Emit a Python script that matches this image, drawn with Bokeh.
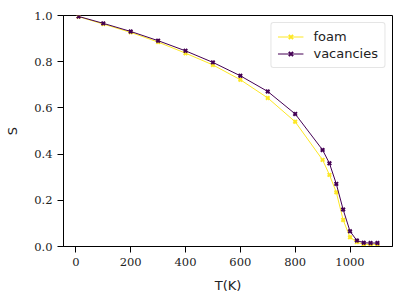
from bokeh.plotting import figure
from bokeh.models import Range1d, FixedTicker, PrintfTickFormatter, Legend, LegendItem
from bokeh.embed import file_html
from bokeh.resources import INLINE

T = [10, 100, 200, 300, 400, 500, 600, 700, 800, 900, 925, 950, 975, 1000, 1025, 1050, 1075, 1100]
foam = [0.995, 0.963, 0.927, 0.885, 0.837, 0.786, 0.722, 0.643, 0.540, 0.375, 0.310, 0.235, 0.115, 0.040, 0.019, 0.009, 0.009, 0.009]
vacancies = [0.996, 0.966, 0.931, 0.891, 0.847, 0.797, 0.739, 0.671, 0.574, 0.418, 0.360, 0.271, 0.160, 0.066, 0.026, 0.016, 0.015, 0.015]
x_ticks = [0, 200, 400, 600, 800, 1000]
y_ticks = [0.0, 0.2, 0.4, 0.6, 0.8, 1.0]

FOAM = "#FDE725"
VAC = "#440154"

p = figure(width=399, height=297, output_backend="svg", toolbar_location=None,
           x_range=Range1d(-45, 1155), y_range=Range1d(0, 1))
p.frame_width = 329
p.frame_height = 231
p.min_border_left = 63
p.min_border_right = 7
p.min_border_top = 15
p.min_border_bottom = 51
p.background_fill_color = "white"
p.border_fill_color = "white"
p.outline_line_color = "black"
p.outline_line_width = 1
p.xgrid.visible = False
p.ygrid.visible = False

for ax in (p.xaxis[0], p.yaxis[0]):
    ax.axis_line_color = "black"
    ax.axis_line_width = 1
    ax.major_tick_line_color = "black"
    ax.major_tick_out = 6
    ax.major_tick_in = 0
    ax.minor_tick_line_color = None
    ax.major_label_text_font = "DejaVu Serif"
    ax.major_label_text_font_size = "11.5px"
    ax.major_label_text_color = "#222222"
    ax.major_label_standoff = 5
    ax.axis_label_text_font = "DejaVu Sans"
    ax.axis_label_text_font_size = "13px"
    ax.axis_label_text_font_style = "normal"
    ax.axis_label_text_color = "#222222"

p.xaxis.ticker = FixedTicker(ticks=x_ticks)
p.yaxis.ticker = FixedTicker(ticks=y_ticks)
p.yaxis.formatter = PrintfTickFormatter(format="%.1f")
p.xaxis.axis_label = "T(K)"
p.yaxis.axis_label = "S"
p.xaxis.axis_label_standoff = 9
p.yaxis.axis_label_standoff = 11

l1 = p.line(T, foam, line_color=FOAM, line_width=1)
m1 = p.scatter(T, foam, marker="x", size=5, line_color=FOAM, line_width=2)
l2 = p.line(T, vacancies, line_color=VAC, line_width=1)
m2 = p.scatter(T, vacancies, marker="x", size=5, line_color=VAC, line_width=2)

legend = Legend(items=[LegendItem(label="foam", renderers=[l1, m1]),
                       LegendItem(label="vacancies", renderers=[l2, m2])],
                location="top_right")
legend.label_text_font = "DejaVu Sans"
legend.label_text_font_size = "13px"
legend.label_text_color = "#222222"
legend.border_line_color = "#cccccc"
legend.border_line_width = 1
legend.border_radius = 3
legend.background_fill_alpha = 0.8
legend.glyph_width = 26
legend.glyph_height = 15
legend.label_height = 15
legend.label_standoff = 10
legend.padding = 6
legend.spacing = 2
legend.margin = 7
p.add_layout(legend)

open("out.html", "w").write(file_html(p, INLINE))
